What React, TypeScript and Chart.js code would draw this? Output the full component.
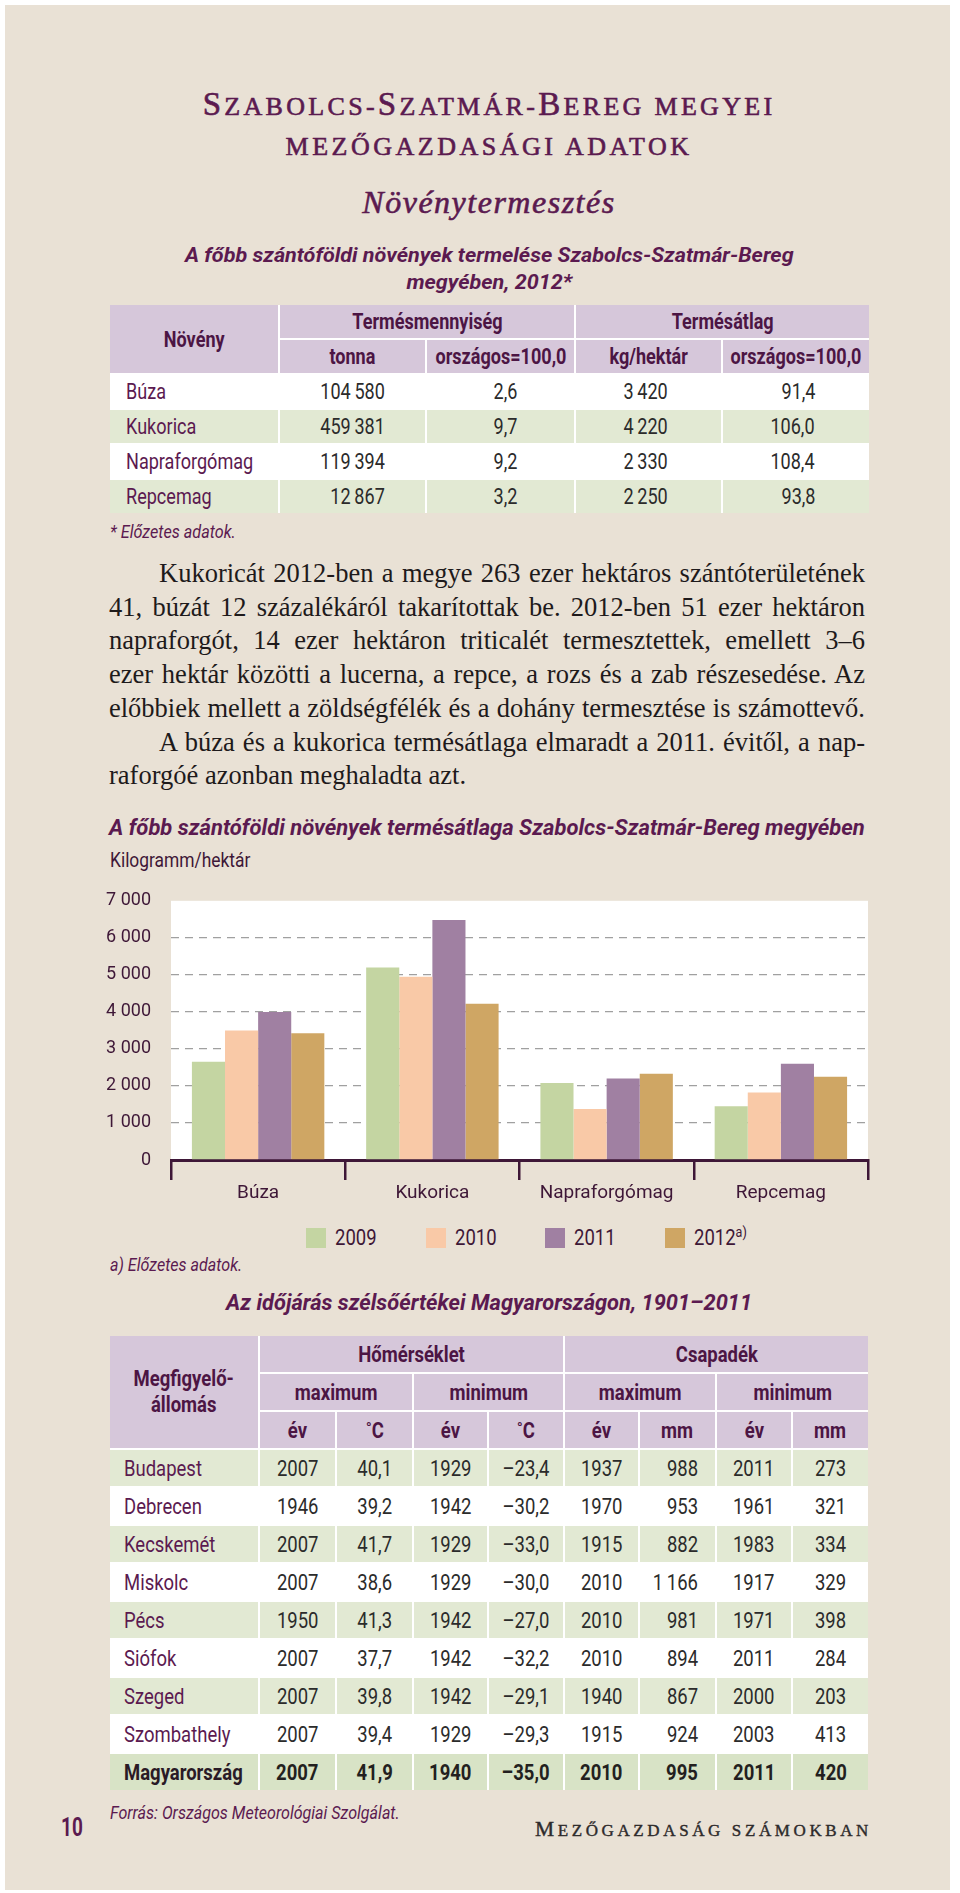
import React, { useEffect, useLayoutEffect, useRef } from 'react';
import { Chart, registerables } from 'chart.js';

Chart.register(...registerables);

// ---------- chart data ----------
const crops = ['Búza', 'Kukorica', 'Napraforgómag', 'Repcemag'];
const seriesLabels = ['2009', '2010', '2011', '2012'];
const seriesNotes = ['', '', '', 'a)'];
const values2009 = [2650, 5200, 2080, 1450];
const values2010 = [3500, 4950, 1380, 1820];
const values2011 = [4000, 6480, 2200, 2600];
const values2012 = [3420, 4220, 2330, 2250];
const seriesColors = ['#c4d5a2', '#f9c9a7', '#a080a2', '#cfa664'];
const yTickLabels = ['0', '1 000', '2 000', '3 000', '4 000', '5 000', '6 000', '7 000'];

// ---------- production table ----------
const prodCrops = ['Búza', 'Kukorica', 'Napraforgómag', 'Repcemag'];
const prodTonna = ['104\u2009580', '459\u2009381', '119\u2009394', '12\u2009867'];
const prodTonnaIdx = ['2,6', '9,7', '9,2', '3,2'];
const prodYield = ['3\u2009420', '4\u2009220', '2\u2009330', '2\u2009250'];
const prodYieldIdx = ['91,4', '106,0', '108,4', '93,8'];

// ---------- weather table ----------
const stations = ['Budapest', 'Debrecen', 'Kecskemét', 'Miskolc', 'Pécs', 'Siófok', 'Szeged', 'Szombathely', 'Magyarország'];
const tMaxYear = ['2007', '1946', '2007', '2007', '1950', '2007', '2007', '2007', '2007'];
const tMax = ['40,1', '39,2', '41,7', '38,6', '41,3', '37,7', '39,8', '39,4', '41,9'];
const tMinYear = ['1929', '1942', '1929', '1929', '1942', '1942', '1942', '1929', '1940'];
const tMin = ['–23,4', '–30,2', '–33,0', '–30,0', '–27,0', '–32,2', '–29,1', '–29,3', '–35,0'];
const pMaxYear = ['1937', '1970', '1915', '2010', '2010', '2010', '1940', '1915', '2010'];
const pMax = ['988', '953', '882', '1\u2009166', '981', '894', '867', '924', '995'];
const pMinYear = ['2011', '1961', '1983', '1917', '1971', '2011', '2000', '2003', '2011'];
const pMin = ['273', '321', '334', '329', '398', '284', '203', '413', '420'];

const paragraphLines = [
  'Kukoricát 2012-ben a megye 263 ezer hektáros szántóterületének',
  '41, búzát 12 százalékáról takarítottak be. 2012-ben 51 ezer hektáron',
  'napraforgót, 14 ezer hektáron triticalét termesztettek, emellett 3–6',
  'ezer hektár közötti a lucerna, a repce, a rozs és a zab részesedése. Az',
  'előbbiek mellett a zöldségfélék és a dohány termesztése is számottevő.',
  'A búza és a kukorica termésátlaga elmaradt a 2011. évitől, a nap-',
  'raforgóé azonban meghaladta azt.',
];
const indentedLines = [0, 5];
const lastLines = [6];

const SANS = "Roboto, 'Noto Sans', sans-serif";
const SERIF = "'Liberation Serif', 'DejaVu Serif', serif";
const PURPLE = '#5b1a50';
const HEAD_TXT = '#4c1544';
const DARK = '#3e1737';
const NUM = '#2b2b2b';
const LAV = '#d6c7da';
const GREEN = '#e2e9d3';
const K = 0.84;

const plotBg = {
  id: 'plotBg',
  beforeDraw(chart: any) {
    const { ctx, chartArea: a } = chart;
    ctx.save();
    ctx.fillStyle = '#ffffff';
    ctx.fillRect(a.left, a.top, a.right - a.left, a.bottom - a.top);
    ctx.restore();
  },
};

// horizontally squeezed text (stand-in for a condensed face)
function Sq({ children, k = K, origin = 'center', fit }: any) {
  const ref = useRef<HTMLSpanElement>(null);
  useLayoutEffect(() => {
    if (fit && ref.current) {
      const w = ref.current.offsetWidth;
      if (w > 0) ref.current.style.transform = `scaleX(${fit / w})`;
    }
  }, [fit]);
  return (
    <span
      ref={ref}
      style={{ display: 'inline-block', transform: `scaleX(${k})`, transformOrigin: origin, whiteSpace: 'nowrap' }}
    >
      {children}
    </span>
  );
}

function SmallCaps({ text, big, small }: { text: string; big: number; small: number }) {
  return (
    <>
      {Array.from(text).map((ch, i) => {
        const up = ch !== ch.toLowerCase();
        return (
          <span key={i} style={{ fontSize: up ? big : small }}>
            {ch.toUpperCase()}
          </span>
        );
      })}
    </>
  );
}

function abs(left: number, top: number, extra: any = {}) {
  return { position: 'absolute' as const, left, top, ...extra };
}

function BarChart() {
  const ref = useRef<HTMLCanvasElement>(null);
  useEffect(() => {
    const series = [values2009, values2010, values2011, values2012];
    const chart = new Chart(ref.current as HTMLCanvasElement, {
      type: 'bar',
      data: {
        labels: crops,
        datasets: series.map((v, i) => ({
          label: seriesLabels[i],
          data: v,
          backgroundColor: seriesColors[i],
          borderWidth: 0,
          categoryPercentage: 0.76,
          barPercentage: 1,
        })),
      },
      options: {
        responsive: false,
        animation: false,
        layout: { padding: { top: 17, right: 12, left: 0, bottom: 0 } },
        plugins: { legend: { display: false }, tooltip: { enabled: false } },
        scales: {
          x: {
            z: 1,
            grid: {
              offset: true,
              drawOnChartArea: false,
              drawTicks: true,
              tickLength: 20,
              color: DARK,
              lineWidth: 2.5,
            },
            border: { display: true, color: DARK, width: 3 },
            ticks: { padding: 2, color: DARK, font: { family: SANS, size: 19 } },
            afterFit: (s: any) => {
              s.height = 60;
            },
          },
          y: {
            min: 0,
            max: 7000,
            ticks: {
              stepSize: 1000,
              padding: 20,
              color: DARK,
              font: { family: SANS, size: 18 },
              callback: (v: any) => yTickLabels[Math.round(Number(v) / 1000)],
            },
            grid: {
              drawTicks: false,
              lineWidth: 1.3,
              color: (c: any) =>
                c.tick && (c.tick.value === 0 || c.tick.value === 7000) ? 'rgba(0,0,0,0)' : '#a0a0a0',
            },
            border: { display: false, dash: [8, 6] },
            afterFit: (s: any) => {
              s.width = 71;
            },
          },
        },
      } as any,
      plugins: [plotBg],
    });
    return () => chart.destroy();
  }, []);
  return <canvas ref={ref} width={780} height={350} style={{ ...abs(100, 870), width: 780, height: 350 }} />;
}

function Cell({ children, style, align = 'center' }: any) {
  const jc = align === 'left' ? 'flex-start' : align === 'right' ? 'flex-end' : 'center';
  return (
    <div
      style={{
        display: 'flex',
        alignItems: 'center',
        justifyContent: jc,
        whiteSpace: 'nowrap',
        ...style,
      }}
    >
      <Sq origin={align}>{children}</Sq>
    </div>
  );
}

function ProductionTable() {
  const head = { background: LAV, color: HEAD_TXT, fontWeight: 700 };
  const rightPads = [40, 57, 53, 54];
  return (
    <div
      style={{
        ...abs(110, 305),
        display: 'grid',
        gridTemplateColumns: '168px 145px 147px 145px 146px',
        gridTemplateRows: 'repeat(6, 33px)',
        gap: 2,
        background: '#fff',
        fontFamily: SANS,
        fontSize: 21.5,
      }}
    >
      <Cell style={{ ...head, gridRow: '1 / 3', gridColumn: '1' }}>Növény</Cell>
      <Cell style={{ ...head, gridRow: '1', gridColumn: '2 / 4' }}>Termésmennyiség</Cell>
      <Cell style={{ ...head, gridRow: '1', gridColumn: '4 / 6' }}>Termésátlag</Cell>
      {['tonna', 'országos=100,0', 'kg/hektár', 'országos=100,0'].map((t, i) => (
        <Cell key={t + i} style={{ ...head, gridRow: '2', gridColumn: String(i + 2) }}>
          {t}
        </Cell>
      ))}
      {prodCrops.map((c, r) => {
        const bg = r % 2 === 1 ? GREEN : '#fff';
        const vals = [prodTonna[r], prodTonnaIdx[r], prodYield[r], prodYieldIdx[r]];
        return (
          <React.Fragment key={c}>
            <Cell align="left" style={{ background: bg, paddingLeft: 16, color: PURPLE, gridRow: String(r + 3) }}>
              {c}
            </Cell>
            {vals.map((v, k) => (
              <Cell
                key={k}
                align="right"
                style={{ background: bg, paddingRight: rightPads[k], color: NUM, gridRow: String(r + 3) }}
              >
                {v}
              </Cell>
            ))}
          </React.Fragment>
        );
      })}
    </div>
  );
}

function WeatherTable() {
  const head = { background: LAV, color: HEAD_TXT, fontWeight: 700 };
  const sub = ['év', '˚C', 'év', '˚C', 'év', 'mm', 'év', 'mm'];
  return (
    <div
      style={{
        ...abs(110, 1336),
        display: 'grid',
        gridTemplateColumns: '148px 75px 75px 73px 74px 73px 75px 74px 75px',
        gridTemplateRows: 'repeat(12, 36px)',
        gap: 2,
        background: '#fff',
        fontFamily: SANS,
        fontSize: 22,
      }}
    >
      <Cell style={{ ...head, gridRow: '1 / 4', gridColumn: '1', textAlign: 'center', lineHeight: '26px' }}>
        Megfigyelő-
        <br />
        állomás
      </Cell>
      <Cell style={{ ...head, gridRow: '1', gridColumn: '2 / 6' }}>Hőmérséklet</Cell>
      <Cell style={{ ...head, gridRow: '1', gridColumn: '6 / 10' }}>Csapadék</Cell>
      <Cell style={{ ...head, gridRow: '2', gridColumn: '2 / 4' }}>maximum</Cell>
      <Cell style={{ ...head, gridRow: '2', gridColumn: '4 / 6' }}>minimum</Cell>
      <Cell style={{ ...head, gridRow: '2', gridColumn: '6 / 8' }}>maximum</Cell>
      <Cell style={{ ...head, gridRow: '2', gridColumn: '8 / 10' }}>minimum</Cell>
      {sub.map((t, i) => (
        <Cell key={i} style={{ ...head, gridRow: '3', gridColumn: String(i + 2) }}>
          {t}
        </Cell>
      ))}
      {stations.map((s, r) => {
        const total = r === stations.length - 1;
        const bg = total ? '#d8e3c6' : r % 2 === 0 ? GREEN : '#fff';
        const w = total ? 700 : 400;
        const vals = [tMaxYear[r], tMax[r], tMinYear[r], tMin[r], pMaxYear[r], pMax[r], pMinYear[r], pMin[r]];
        return (
          <React.Fragment key={s}>
            <Cell
              align="left"
              style={{
                background: bg,
                paddingLeft: 14,
                color: total ? '#2a1a26' : PURPLE,
                fontWeight: w,
                gridRow: String(r + 4),
              }}
            >
              {s}
            </Cell>
            {vals.map((v, k) => (
              <Cell
                key={k}
                align={k === 5 ? 'right' : 'center'}
                style={{
                  background: bg,
                  color: total ? '#231f20' : NUM,
                  fontWeight: w,
                  gridRow: String(r + 4),
                  ...(k === 5 ? { paddingRight: 17 } : {}),
                }}
              >
                {v}
              </Cell>
            ))}
          </React.Fragment>
        );
      })}
    </div>
  );
}

export default function App() {
  const sansText = (size: number, extra: any = {}) => ({
    fontFamily: SANS,
    fontSize: size,
    whiteSpace: 'nowrap' as const,
    ...extra,
  });
  const heavy = { WebkitTextStroke: `0.6px ${PURPLE}` };
  return (
    <div style={{ position: 'absolute', left: 0, top: 0, width: 960, height: 1893, background: '#fff', overflow: 'hidden' }}>
      <div style={{ ...abs(5, 5), width: 945, height: 1885, background: '#e9e1d5' }} />

      {/* Titles */}
      <div
        style={{
          ...abs(110, 84),
          width: 758,
          textAlign: 'center',
          lineHeight: '40px',
          fontFamily: SERIF,
          color: PURPLE,
          letterSpacing: 3.3,
          whiteSpace: 'nowrap',
          ...heavy,
        }}
      >
        <SmallCaps text="Szabolcs-Szatmár-Bereg megyei" big={33} small={26} />
      </div>
      <div
        style={{
          ...abs(110, 127),
          width: 758,
          textAlign: 'center',
          lineHeight: '40px',
          fontFamily: SERIF,
          color: PURPLE,
          letterSpacing: 3.5,
          whiteSpace: 'nowrap',
          ...heavy,
        }}
      >
        <SmallCaps text="mezőgazdasági adatok" big={33} small={26} />
      </div>
      <div
        style={{
          ...abs(110, 182),
          width: 758,
          textAlign: 'center',
          lineHeight: '40px',
          fontFamily: SERIF,
          fontStyle: 'italic',
          fontSize: 32,
          letterSpacing: 1.5,
          color: PURPLE,
          ...heavy,
        }}
      >
        Növénytermesztés
      </div>
      <div
        style={{
          ...abs(110, 241.5),
          width: 758,
          textAlign: 'center',
          lineHeight: '27px',
          ...sansText(21),
          fontWeight: 700,
          fontStyle: 'italic',
          color: PURPLE,
        }}
      >
        <Sq fit={609}>
          A főbb szántóföldi növények termelése Szabolcs-Szatmár-Bereg
          <br />
          megyében, 2012*
        </Sq>
      </div>

      <ProductionTable />

      <div style={{ ...abs(110, 520), lineHeight: '24px', ...sansText(19), fontStyle: 'italic', color: PURPLE }}>
        <Sq origin="left" fit={126}>* Előzetes adatok.</Sq>
      </div>

      {/* Paragraph */}
      {paragraphLines.map((line, i) => {
        const indent = indentedLines.includes(i);
        const last = lastLines.includes(i);
        return (
          <div
            key={i}
            style={{
              ...abs(109, 556 + i * 33.7),
              width: 756,
              boxSizing: 'border-box',
              paddingLeft: indent ? 50 : 0,
              lineHeight: '34px',
              height: 34,
              fontFamily: SERIF,
              fontSize: 26.5,
              color: '#1e1a1b',
              textAlign: last ? 'left' : 'justify',
              textAlignLast: last ? 'left' : 'justify',
              whiteSpace: 'nowrap',
            }}
          >
            {line}
          </div>
        );
      })}

      {/* Chart */}
      <div style={{ ...abs(109, 814), lineHeight: '28px', ...sansText(22), fontWeight: 700, fontStyle: 'italic', color: PURPLE }}>
        <Sq origin="left" fit={756}>
          A főbb szántóföldi növények termésátlaga Szabolcs-Szatmár-Bereg megyében
        </Sq>
      </div>
      <div style={{ ...abs(110, 848), lineHeight: '24px', ...sansText(20), color: DARK }}>
        <Sq origin="left" fit={140}>Kilogramm/hektár</Sq>
      </div>
      <BarChart />

      {seriesLabels.map((lab, i) => (
        <React.Fragment key={lab}>
          <div style={{ ...abs(306 + i * 119.7, 1228), width: 20, height: 20, background: seriesColors[i] }} />
          <div style={{ ...abs(335 + i * 119.7, 1224), lineHeight: '28px', ...sansText(22), color: DARK }}>
            <Sq origin="left">
              {lab}
              {seriesNotes[i] ? (
                <sup style={{ fontSize: 15, verticalAlign: 'top', lineHeight: '16px' }}>{seriesNotes[i]}</sup>
              ) : null}
            </Sq>
          </div>
        </React.Fragment>
      ))}

      <div style={{ ...abs(110, 1253), lineHeight: '24px', ...sansText(19), fontStyle: 'italic', color: PURPLE }}>
        <Sq origin="left" fit={132}>a) Előzetes adatok.</Sq>
      </div>

      <div
        style={{
          ...abs(110, 1289),
          width: 758,
          textAlign: 'center',
          lineHeight: '28px',
          ...sansText(22),
          fontWeight: 700,
          fontStyle: 'italic',
          color: PURPLE,
        }}
      >
        <Sq fit={526}>Az időjárás szélsőértékei Magyarországon, 1901–2011</Sq>
      </div>

      <WeatherTable />

      <div style={{ ...abs(110, 1801), lineHeight: '24px', ...sansText(19), fontStyle: 'italic', color: PURPLE }}>
        <Sq origin="left" fit={290}>Forrás: Országos Meteorológiai Szolgálat.</Sq>
      </div>
      <div style={{ ...abs(61, 1813), lineHeight: '30px', ...sansText(25), fontWeight: 700, color: PURPLE }}>
        <Sq origin="left" fit={22}>10</Sq>
      </div>
      <div
        style={{
          ...abs(468, 1814),
          width: 404,
          textAlign: 'right',
          lineHeight: '30px',
          fontFamily: SERIF,
          color: '#2d2a2b',
          letterSpacing: 3.6,
          whiteSpace: 'nowrap',
          WebkitTextStroke: '0.4px #2d2a2b',
        }}
      >
        <SmallCaps text="Mezőgazdaság számokban" big={21.5} small={17} />
      </div>
    </div>
  );
}
